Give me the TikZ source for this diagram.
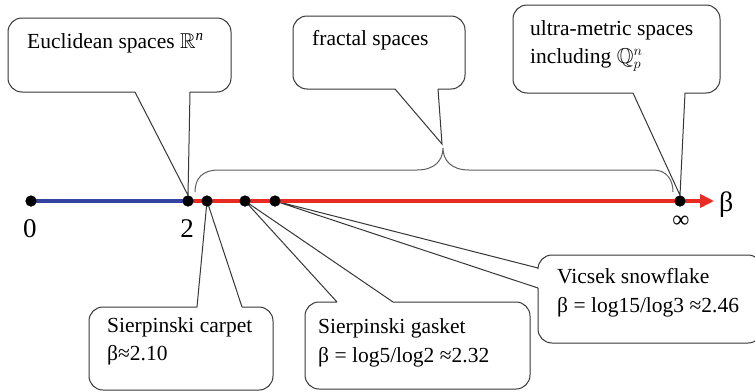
\documentclass[tikz,border=0pt]{standalone}
\usepackage{amssymb}
\usepackage{fontspec}
\setmainfont{LiberationSerif}[Extension=.ttf,UprightFont=*-Regular,BoldFont=*-Bold,ItalicFont=*-Italic]
\usetikzlibrary{arrows.meta}
\definecolor{axisblue}{RGB}{52,66,160}
\definecolor{axisred}{RGB}{232,44,36}
\definecolor{lineg}{RGB}{55,55,55}
\tikzset{
  dot/.style={circle,fill=black,inner sep=0pt,minimum size=11pt},
  callout/.style={draw=lineg,line width=1pt},
  bracel/.style={draw=lineg!80,line width=1pt},
  boxtext/.style={font=\fontsize{21.5}{28}\selectfont,anchor=base west,inner sep=0pt},
  axtext/.style={font=\fontsize{27}{30}\selectfont,anchor=base,inner sep=0pt},
}
\begin{document}
\begin{tikzpicture}[x=1pt,y=-1pt]
\clip (0,0) rectangle (755,391);
\fill[white] (0,0) rectangle (755,391);
% dots (positions)
\coordinate (aend) at (714,201);
\node[dot] (p0) at (31,201) {};
\node[dot] (p2) at (188,201) {};
\node[dot] (pc) at (207,201) {};
\node[dot] (pg) at (245,201) {};
\node[dot] (pv) at (275,201) {};
\node[dot] (pi) at (680,201) {};
% callouts
\draw[callout] (135,92) -- (p2.north) -- (190,92) (190,92) [rounded corners=14pt] -- (231,92) -- (231,18) -- (8,18) -- (8,92) -- (135,92);
\draw[callout] (395,89) -- (442,144) -- (438,89) (438,89) [rounded corners=14pt] -- (465,89) -- (465,16) -- (293,16) -- (293,89) -- (395,89);
\draw[callout] (633,93) -- (pi.north) -- (685,93) (685,93) [rounded corners=14pt] -- (720,93) -- (720,5) -- (513,5) -- (513,93) -- (633,93);
\draw[callout] (197,307) -- (pc.center) -- (242,307) (242,307) [rounded corners=14pt] -- (273,307) -- (273,390) -- (89,390) -- (89,307) -- (197,307);
\draw[callout] (337,302) -- (pg.center) -- (393,302) (393,302) [rounded corners=14pt] -- (530,302) -- (530,389) -- (305,389) -- (305,302) -- (337,302);
\draw[callout] (538,268) -- (pv.center) -- (538,288) (538,288) [rounded corners=14pt] -- (538,343) -- (762,343) -- (762,255) -- (538,255) -- (538,268);
% brace
\draw[bracel] (195,192) .. controls (195,178) and (203,170) .. (218,170) -- (417,170) .. controls (435,170) and (443,160) .. (443,148) .. controls (443,160) and (451,170) .. (469,170) -- (653,170) .. controls (667,170) and (673,180) .. (673,192);
% axis
\draw[axisblue,line width=3.5pt] (p0.center) -- (p2.center);
\draw[axisred,line width=3.5pt,-{Triangle[length=14pt,width=13pt]}] (p2.center) -- (aend);
\node[dot] at (p0) {};
\node[dot] at (p2) {};
\node[dot] at (pc) {};
\node[dot] at (pg) {};
\node[dot] at (pv) {};
\node[dot] at (pi) {};
% axis labels
\node[axtext] (l0) at (30,237) {0};
\node[axtext] (l2) at (187,237) {2};
\node[font=\fontsize{24}{26}\selectfont,inner sep=0pt] (linf) at (681,222) {∞};
\node[font=\fontsize{28}{30}\selectfont,anchor=base west,inner sep=0pt] (lbeta) at (719,211) {β};
% texts
\node[boxtext] (te) at (27,48) {Euclidean spaces $\mathbb{R}^{\mathit{n}}$};
\node[boxtext] (tf) at (312,45) {fractal spaces};
\node[boxtext] (tu1) at (530,35) {ultra-metric spaces};
\node[boxtext] (tu2) at (530,63) {including $\mathbb{Q}_p^n$};
\node[boxtext] (tc1) at (107,332) {Sierpinski carpet};
\node[boxtext] (tc2) at (107,360) {β≈2.10};
\node[boxtext] (tg1) at (318,333) {Sierpinski gasket};
\node[boxtext] (tg2) at (318,362) {β = log5/log2 ≈2.32};
\node[boxtext] (tv1) at (557,283) {Vicsek snowflake};
\node[boxtext] (tv2) at (557,312) {β = log15/log3 ≈2.46};
\end{tikzpicture}
\end{document}
